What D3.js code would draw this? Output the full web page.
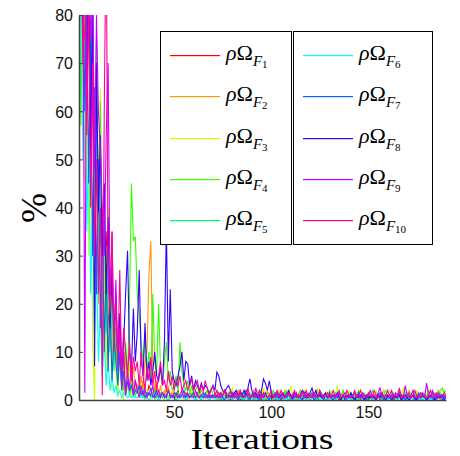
<!DOCTYPE html>
<html><head><meta charset="utf-8">
<script src="https://cdn.jsdelivr.net/npm/d3@7"></script>
<style>body{margin:0;background:#fff}svg{display:block}</style>
</head><body><div id="chart"></div>
<script>
const xTicks = [50, 100, 150];
const yTicks = [0, 10, 20, 30, 40, 50, 60, 70, 80];
const seriesNames = ["1","2","3","4","5","6","7","8","9","10"];
const seriesColors = ["#ff0000","#ff9900","#ccff00","#33ff00","#00ff66","#00ffff","#0066ff","#3300ff","#cc00ff","#ff0099"];

const rhoF1 = [95,88,100,72,85,90,60,82,45,70, 38,52,30,22,35,18,12,25,9,15, 6,11,4,8,3,6,2,5,3,4,
 2,3,1.5,4,2,1,3,2,1,2.5, 1,2,0.5,1.5,1,2,0.5,1,1.5,0.5, 1,2,0.5,1,0.5,1.5,1,0.5,1,0.5, 1,1.5,0.5,1,0.5,0.5,1,0.5,1,0.5,
 0.5,1,0.5,0,1,0.5,1.5,0.5,0,1, 0.5,0.5,1,0,0.5,1,0.5,0,1,0.5, 0,0.5,1,0.5,0,1.5,0.5,0,0.5,1, 0.5,0,1,0.5,0.5,0,1,0.5,0,0.5,
 1,0.5,0,0.5,1,0,0.5,1.5,0.5,0, 0.5,1,0.5,0,0.5,1,0.5,0,1,0.5, 0,0.5,1,0.5,0,0.5,1,0,0.5,1, 0.5,0,0.5,1,0.5,0,1,0.5,0,0.5,
 1,0,0.5,0.5,1,0,0.5,1,0.5,0, 0.5,1,0,0.5,1,0.5,0,0.5,1,0, 0.5,1,0.5,0,0.5,1,0,0.5,1,0.5, 0,0.5,1,0.5,0,1,0.5,0,0.5,1];
const rhoF2 = [80,100,65,90,55,85,40,70,30,62, 20,45,28,12,32,8,22,5,18,10, 3,14,6,2,9,4,12,3,7,2,
 3,1,5,2,8,10,26,33,6,2, 4,1,3,0.5,2,1,3,0.5,1,2, 0.5,1.5,1,0.5,2,1,0.5,1,1.5,0.5, 1,0.5,2,1,0.5,1,0.5,1.5,0.5,1,
 1,0.5,1.5,0.5,1,2,0.5,1,0.5,1.5, 0.5,1,2,0.5,1,0.5,1.5,1,0.5,1, 2,0.5,1,1.5,0.5,1,0.5,2,1,0.5, 1,1.5,0.5,1,0.5,1,2,0.5,1,0.5,
 1.5,0.5,1,0.5,2,1,0.5,1,1.5,0.5, 1,0.5,1,2,0.5,1,0.5,1.5,0.5,1, 0.5,1,1.5,0.5,1,0.5,2,1,0.5,1, 1.5,0.5,1,0.5,1,2,0.5,1,0.5,1.5,
 0.5,1,0.5,1.5,1,0.5,1,2,0.5,1, 0.5,1.5,0.5,1,0.5,1,1.5,0.5,1,0.5, 2,1,0.5,1,1.5,0.5,1,0.5,1,0.5, 1.5,0.5,1,0.5,1,2,0.5,1,0.5,1];
const rhoF3 = [60,100,80,45,90,30,70,12,0,55, 25,65,9,30,3,40,16,2,20,6, 0.5,10,3,0,6,2,8,0.5,4,1,
 2,0.5,3,1,0,2,1,0.5,1.5,0, 1,2,0.5,1,0,1.5,0.5,1,2,0.5, 0,1,0.5,1.5,0.5,1,0,1,2,0.5, 1,0.5,1.5,0,1,0.5,2,1,0.5,1,
 0.5,1.5,0,1,2,0.5,1,0,1.5,2.5, 0.5,1,0,1.5,0.5,2,1,0,0.5,1.5, 1,0,2,0.5,1,2.5,0.5,0,1,1.5, 0,1,0.5,2,1,0,1.5,0.5,1,3,
 0.5,1,0,1.5,0.5,1,2,0.5,0,1, 1.5,0.5,1,2.5,0,1,0.5,1.5,1,0, 2,0.5,1,3,0.5,1,0,1.5,0.5,2, 1,0,0.5,1.5,1,2,0.5,0,1,0.5,
 1.5,1,0,2,0.5,1,0.5,1.5,0,1, 2,0.5,1,0,1.5,0.5,1,2.5,0.5,1, 0,1.5,0.5,1,2,0.5,1,0,1.5,0.5, 1,2,0.5,1,0,1.5,1,0.5,2,1.5];
const rhoF4 = [100,57,95,80,70,90,62,85,50,75, 40,62,28,45,18,34,12,22,8,15, 5,10,3,7,12,5,20,45,33,34,
 22,18,12,8,14,6,10,4,22,8, 5,20,6,3,8,12,4,6,2,3, 5,2,12,6,3,2,4,1.5,3,1, 2,3,1,2,1.5,1,2,1,2.5,1,
 1,2,0.5,1.5,1,2,0.5,1,1.5,0.5, 1,2,1,0.5,1.5,1,2,0.5,1,0.5, 1.5,1,0.5,2,1,0.5,1,1.5,0.5,1, 2,0.5,1,1.5,0.5,1,0.5,2,1,0.5,
 1,1.5,0.5,1,2,0.5,1,0.5,1.5,1, 0.5,1,2,0.5,1,1.5,0.5,1,0.5,2, 1,0.5,1.5,1,0.5,1,2,0.5,1,0.5, 1.5,1,0.5,1,2,0.5,1,1.5,0.5,1,
 0.5,2,1,0.5,1,1.5,0.5,1,2,0.5, 1,0.5,1.5,1,0.5,2,1,0.5,1,1.5, 0.5,1,2,0.5,1,0.5,1.5,1,0.5,1, 2,0.5,1,1.5,1,0.5,2,2.5,1.5,2];
const rhoF5 = [85,100,70,95,60,88,48,80,35,66, 26,50,20,38,14,28,10,20,6,14, 4,9,2,6,1.5,4,1,3,2,1,
 2,1,3,0.5,2,1,1.5,0.5,1,2, 0.5,1,1.5,0.5,1,0.5,2,1,0.5,1, 0.5,1.5,0.5,1,0.5,1,0.5,1.5,0.5,1, 0.5,1,0.5,0.5,1,0.5,1,0.5,0.5,1,
 0.5,1,0.5,0,0.5,1,0.5,1.5,0.5,0, 1,0.5,0.5,1,0,0.5,1,0.5,1.5,0.5, 0,0.5,1,0.5,0.5,1,0,0.5,1,0.5, 1,0.5,0,0.5,1,0.5,1.5,0.5,0,1,
 0.5,0.5,1,0,0.5,1,0.5,0,0.5,1, 0.5,1.5,0.5,0,1,0.5,0.5,1,0,0.5, 1,0.5,0,0.5,1,0.5,1,0.5,0,0.5, 1,0.5,1.5,0.5,0,1,0.5,0.5,1,0,
 0.5,1,0.5,0,0.5,1,0.5,1,0.5,0, 1,0.5,0.5,1,0,0.5,1,0.5,1.5,0.5, 0,0.5,1,0.5,0.5,1,0,0.5,1,0.5, 1,0.5,0,0.5,1,0.5,1.5,1,0.5,1];
const rhoF6 = [70,90,50,75,35,55,22,40,14,28, 8,18,5,12,3,8,2,5,1.5,3, 1,2,0.5,1.5,1,0.5,1,0.5,1,0.5,
 0.5,1,0.5,0.5,1,0.5,0,0.5,1,0.5, 0.5,0,0.5,1,0.5,0.5,0,0.5,1,0.5, 0,0.5,0.5,1,0.5,0,0.5,0.5,1,0.5, 0,0.5,0.5,0,1,0.5,0.5,0,0.5,0.5,
 0.5,0,0.5,0.5,0,1,0.5,0,0.5,0, 0.5,0.5,0,0.5,1,0,0.5,0,0.5,0.5, 0,0.5,0,1,0.5,0,0.5,0.5,0,0.5, 0.5,0,0.5,0,0.5,1,0,0.5,0.5,0,
 0.5,0,0.5,0.5,0,0.5,1,0,0.5,0, 0.5,0.5,0,0.5,0,1,0.5,0,0.5,0.5, 0,0.5,0,0.5,1,0,0.5,0.5,0,0.5, 0,0.5,0.5,0,0.5,1,0,0.5,0,0.5,
 0.5,0,0.5,0,1,0.5,0,0.5,0.5,0, 0.5,0,0.5,1,0,0.5,0.5,0,0.5,0, 0.5,0.5,0,0.5,1,0,0.5,0,0.5,0.5, 0,0.5,0,0.5,0.5,1,0,0.5,0,0.5];
const rhoF7 = [100,80,92,60,85,45,78,30,65,22, 50,15,38,10,28,6,20,4,14,8, 3,10,2,6,1,4,2,3,1,2,
 1.5,3,1,2,0.5,1.5,1,2.5,0.5,1, 2,0.5,1,1.5,0.5,1,2,0.5,1,0.5, 1.5,1,0.5,1,2,0.5,1,0.5,1,1.5, 0.5,1,0.5,1,0.5,1.5,0.5,1,0.5,1,
 0.5,1,0.5,1.5,0.5,0,1,0.5,1,0.5, 1.5,0.5,0,1,0.5,1,2,0.5,0,1, 0.5,1,0.5,0,1.5,0.5,1,0.5,0,1, 0.5,1.5,0.5,1,0,0.5,1,0.5,1.5,0.5,
 0,1,0.5,1,0.5,0,1.5,0.5,1,0.5, 1,0,0.5,1,1.5,0.5,0,1,0.5,1, 0.5,0,1,0.5,1.5,0.5,1,0,0.5,1, 0.5,1,0,0.5,1.5,0.5,1,0.5,0,1,
 0.5,1,0.5,0,1,1.5,0.5,0,1,0.5, 1,0.5,0,1,0.5,1.5,0.5,1,0,0.5, 1,0.5,1,0,0.5,1.5,0.5,1,0.5,0, 1,0.5,1.5,0.5,0,1,0.5,1,0.5,1];
const rhoF8 = [90,100,75,100,60,95,50,85,7,70, 39,55,30,45,22,38,15,28,12,22, 8,18,5,12,22,31,10,6,19,8,
 14,27,9,5,16,4,8,3,6,10, 5,4,7,3,12,36,8,23,6,4, 3,5,7,10,4,8,7.5,3,5,2, 4,3,2,3.5,2,3,2.5,1.5,2,3,
 2,5.8,5,3,2,1.5,2.5,3,2,1, 1.5,2,1,1.5,1,2,1,2.5,4.4,2, 1,1.5,0.5,1,2,4.4,3.5,2,4,1.5, 0.5,1,1.5,0.5,1,1.5,0.5,1,2,1,
 0.5,1.5,1,0.5,1,2,1.5,0.5,1,1.5, 2.5,1,2,0.5,1,0.5,1,1.5,0.5,1, 0.5,1,0.5,1.5,0.5,0,1,0.5,1,0.5, 1.5,0.5,0,1,0.5,1,0.5,0,1,0.5,
 0.5,1,0.5,0,1,0.5,1.5,0.5,0,1, 0.5,0,1,0.5,0.5,1,0,0.5,1,0.5, 0,0.5,1,0.5,0,1,0.5,1,0.5,0, 0.5,1,0.5,0,1,0.5,0.5,1,0,0.5];
const rhoF9 = [100,80,95,1.5,100,90,75,88,48,80, 60,52,40,30,55,70,20,35,12,25, 6,15,3,10,1,6,2,8,1,4,
 2,0.5,3,1,2,0.5,1.5,1,3,0.5, 1,2,0.5,1.5,1,0.5,2,1,0.5,1.5, 1,0.5,1,2,0.5,1,1.5,0.5,1,0.5, 2,1,0.5,1,1.5,0.5,1,0.5,1,0.5,
 1,0.5,1.5,0.5,1,2,0.5,1,0.5,1.5, 0.5,1,0.5,2,1,0.5,1,1.5,0.5,1, 0.5,2.5,1,0.5,1,0.5,1.5,0.5,1,0.5, 1,0.5,2,1,0.5,1,0.5,1.5,1,0.5,
 1,0.5,1.5,0.5,1,2,0.5,1,0.5,1, 1.5,0.5,1,0.5,2,1,0.5,1,0.5,1.5, 0.5,1,0.5,1,2,0.5,1,1.5,0.5,1, 0.5,1,2,0.5,1,0.5,1.5,1,0.5,1,
 2,0.5,1,0.5,1.5,2.5,1,0.5,1,0.5, 1,2,0.5,1,0.5,1.5,1,0.5,3,1, 0.5,1,2,0.5,1,0.5,1.5,1,0.5,3.5, 1,0.5,2,1,0.5,1.5,1,0.5,1,0.5];
const rhoF10 = [90,100,70,95,55,85,40,70,30,50, 22,40,1,60,100,25,18,35,10,20, 8,27,6,15,10,5,12,4,9,6,
 8,3,10,5,2,7,4,9,3,6, 2,5,8,3,4,2,6,3,5,2, 4,3,5,2,3,4,2,3,4.5,2, 3,4,1.5,3,2,4,2.5,1,2,3,
 1,2,0.5,1.5,1,2,0.5,1,2,0.5, 1,1.5,0.5,2,1,0.5,1,2.5,0.5,1, 1.5,0.5,1,2,0.5,1,1.5,0.5,1,2, 0.5,1,1.5,0.5,2,1,0.5,1,1.5,0.5,
 1,2,0.5,1,0.5,1.5,1,2,0.5,1, 0.5,1.5,1,0.5,2,1,0.5,1,1.5,0.5, 1,2,0.5,1,1.5,0.5,1,0.5,2,1, 0.5,1,1.5,0.5,1,2,0.5,1,0.5,1.5,
 1,0.5,2,1,0.5,1,1.5,0.5,1,2, 0.5,1,0.5,1.5,1,2.5,0.5,1,0.5,1, 1.5,0.5,1,2,0.5,1,0.5,1.5,1,0.5, 1,2,0.5,1,1.5,0.5,1,0.5,1.5,1];

const seriesValues = [rhoF1, rhoF2, rhoF3, rhoF4, rhoF5, rhoF6, rhoF7, rhoF8, rhoF9, rhoF10];

const W = 460, H = 456;
const m = {left: 79, right: 14, top: 15, bottom: 56};
const svg = d3.select("#chart").append("svg").attr("width", W).attr("height", H);

const x = d3.scaleLinear().domain([1, 190]).range([m.left, W - m.right]);
const y = d3.scaleLinear().domain([0, 80]).range([H - m.bottom, m.top]);

svg.append("defs").append("clipPath").attr("id", "clip")
  .append("rect").attr("x", m.left).attr("y", m.top)
  .attr("width", W - m.right - m.left).attr("height", H - m.bottom - m.top);

const line = d3.line().x((d, i) => x(i + 1)).y(d => y(d));
const g = svg.append("g").attr("clip-path", "url(#clip)");
seriesValues.forEach((vals, k) => {
  g.append("path").datum(vals).attr("d", line)
    .attr("fill", "none").attr("stroke", seriesColors[k]).attr("stroke-width", 1.1);
});

const axisColor = "#404040";
const xAxis = svg.append("g").attr("transform", `translate(0,${H - m.bottom})`)
  .call(d3.axisBottom(x).tickValues(xTicks).tickSizeInner(-4).tickSizeOuter(0).tickPadding(7));
const yAxis = svg.append("g").attr("transform", `translate(${m.left},0)`)
  .call(d3.axisLeft(y).tickValues(yTicks).tickSizeInner(-4).tickSizeOuter(0).tickPadding(6));
[xAxis, yAxis].forEach(a => {
  a.select(".domain").attr("stroke", axisColor).attr("stroke-width", 1.5);
  a.selectAll(".tick line").attr("stroke", axisColor);
  a.selectAll(".tick text").attr("fill", "#111").attr("font-family", "Liberation Sans, Arial, sans-serif").attr("font-size", 16);
});
yAxis.selectAll(".tick text").attr("dy", "0.36em");

svg.append("text").attr("x", 262).attr("y", 449).attr("text-anchor", "middle")
  .attr("font-family", "Liberation Serif, serif").attr("font-size", 30)
  .attr("textLength", 143).attr("lengthAdjust", "spacingAndGlyphs").text("Iterations");
svg.append("text").attr("transform", "translate(46,208) rotate(-90)").attr("text-anchor", "middle")
  .attr("font-family", "Liberation Serif, serif").attr("font-size", 36).text("%");

// legend
const boxes = [{x0: 160, x1: 291, items: [0,1,2,3,4]}, {x0: 293, x1: 432, items: [5,6,7,8,9]}];
const legY0 = 31, legY1 = 244;
const rowY = d3.scaleLinear().domain([0, 4]).range([55, 220]);
boxes.forEach(b => {
  const lg = svg.append("g");
  lg.append("rect").attr("x", b.x0 + 0.5).attr("y", legY0 + 0.5).attr("width", b.x1 - b.x0).attr("height", legY1 - legY0)
    .attr("fill", "#fff").attr("stroke", "#000").attr("stroke-width", 1);
  b.items.forEach((k, r) => {
    const yy = Math.round(rowY(r)) + 0.5;
    lg.append("rect").attr("x", b.x0 + 10).attr("y", yy - 0.5).attr("width", 50).attr("height", 1.2)
      .attr("fill", seriesColors[k]);
    const t = lg.append("text").attr("x", b.x0 + 66).attr("y", yy + 4)
      .attr("font-family", "Liberation Serif, serif").attr("font-size", 22).attr("fill", "#000");
    t.append("tspan").attr("font-style", "italic").text("ρ");
    t.append("tspan").text("Ω");
    t.append("tspan").attr("font-style", "italic").attr("font-size", 15).attr("dy", 6).text("F");
    t.append("tspan").attr("font-size", 11).attr("dy", 2).text(seriesNames[k]);
  });
});
</script></body></html>
